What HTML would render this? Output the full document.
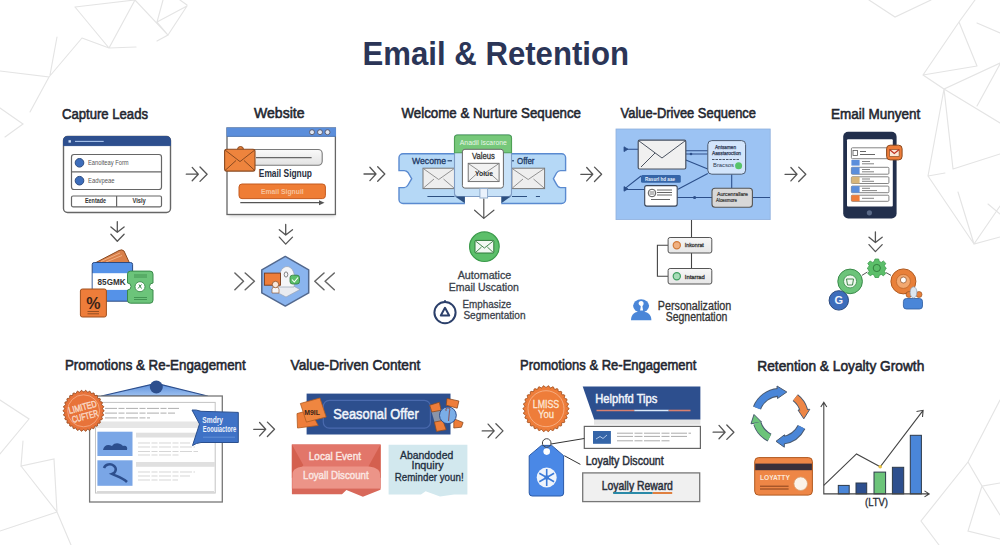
<!DOCTYPE html>
<html><head><meta charset="utf-8">
<style>
html,body{margin:0;padding:0;background:#fff;width:1000px;height:545px;overflow:hidden}
svg{display:block}
text{font-family:"Liberation Sans",sans-serif}
</style></head><body>
<svg width="1000" height="545" viewBox="0 0 1000 545">
<defs>
<g id="arr" fill="none" stroke="#555" stroke-width="1.3" stroke-linecap="round" stroke-linejoin="round"><path d="M0,0H12M5.9,-6.8L12,0L5.9,6.6M13.7,-7.2L20.8,0L13.7,7.2"/></g>
<filter id="sh" x="-20%" y="-50%" width="140%" height="200%"><feGaussianBlur stdDeviation="1.6"/></filter>
<g id="darr" fill="none" stroke="#555" stroke-width="1.3" stroke-linecap="round" stroke-linejoin="round"><path d="M0,0V10.6M-6.4,5.2L0,10.6L6.8,5.2M-6.4,12.6L0,19.6L6.8,12.6"/></g>
</defs>
<rect width="1000" height="545" fill="#fff"/>
<!-- background lines -->
<g fill="none" stroke="#e4e4e4" stroke-width="1.15" stroke-linecap="round">
<path d="M75,7L135,0M75,7L109,48L136,47M109,48L135,0L168,35L157,41M157,22L187,6M163,0L157,22L168,35M180,0L187,5M187,6L168,35M82,38L109,48M82,38L49,77M57,37L50,75M0,71L49,77L30,112M0,108L23,124L5,137"/>
<path d="M869,0L895,17L931,0M975,0L959,22L923,75M959,22L977,66M923,75L977,66M923,75L944,89L1000,63M977,23L1000,33M944,89L928,176M944,89L953,169M944,89L1000,123M977,106L1000,64M953,169L1000,154M928,176L945,173M928,176L974,244M958,192L974,244L1000,237M974,244L1000,206M988,204L1000,214"/>
<path d="M0,400L29,419L0,454M23,441L21,466L54,459L57,512M21,466L57,512L0,531M57,512L71,545"/>
<path d="M1000,400L968,462L921,521L939,545M968,462L982,486L1000,483M982,486L968,531L1000,539M982,486L1000,515"/>
</g>

<!-- title -->
<text x="362.6" y="65.3" font-size="33.5" font-weight="bold" fill="#2b3557" textLength="266.4" lengthAdjust="spacingAndGlyphs">Email &amp; Retention</text>

<!-- headings -->
<g font-size="15.5" fill="#23262f" stroke="#23262f" stroke-width="0.6">
<text x="62" y="118.5" textLength="86" lengthAdjust="spacingAndGlyphs">Capture Leads</text>
<text x="254" y="118.1" textLength="50.5" lengthAdjust="spacingAndGlyphs">Website</text>
<text x="401.5" y="118.3" textLength="179.5" lengthAdjust="spacingAndGlyphs">Welcome &amp; Nurture Sequence</text>
<text x="620.6" y="118" textLength="135.4" lengthAdjust="spacingAndGlyphs">Value-Drivee Sequence</text>
<text x="831" y="118.9" textLength="89.3" lengthAdjust="spacingAndGlyphs">Email Munyent</text>
<text x="64.9" y="370.2" textLength="180.8" lengthAdjust="spacingAndGlyphs">Promotions &amp; Re-Engagement</text>
<text x="290.6" y="369.8" textLength="129.8" lengthAdjust="spacingAndGlyphs">Value-Driven Content</text>
<text x="520" y="369.8" textLength="176.4" lengthAdjust="spacingAndGlyphs">Promotions &amp; Re-Engagement</text>
<text x="757.3" y="370.7" textLength="167" lengthAdjust="spacingAndGlyphs">Retention &amp; Loyalty Growth</text>
</g>


<!-- ===== Capture Leads window ===== -->
<g>
<rect x="63.5" y="136.5" width="107" height="76" rx="4" fill="#fff" stroke="#666" stroke-width="1.4"/>
<path d="M63.5,145.6V140.5a4,4 0 0 1 4,-4H166.5a4,4 0 0 1 4,4V145.6Z" fill="#2d4f8e" stroke="#2d4f8e" stroke-width="1"/>
<rect x="68.5" y="140.2" width="2.4" height="2.4" fill="#cfe0f7"/>
<line x1="75" y1="141.4" x2="103.7" y2="141.4" stroke="#a9c4ee" stroke-width="1.1"/>
<rect x="71.5" y="154.5" width="90" height="35" rx="2.5" fill="#fff" stroke="#666" stroke-width="1.2"/>
<line x1="71.5" y1="171.8" x2="161.5" y2="171.8" stroke="#666" stroke-width="1.2"/>
<circle cx="79.5" cy="162.8" r="4.3" fill="#3d6dbb" stroke="#2b4a7e" stroke-width="1"/>
<circle cx="79.5" cy="180.7" r="4.3" fill="#3d6dbb" stroke="#2b4a7e" stroke-width="1"/>
<text x="88" y="164.8" font-size="7" fill="#555" textLength="40.6" lengthAdjust="spacingAndGlyphs">Eanoiteay Form</text>
<text x="88" y="182.8" font-size="7" fill="#555" textLength="26.6" lengthAdjust="spacingAndGlyphs">Eadvpeae</text>
<rect x="71.5" y="196" width="90" height="10.8" rx="1.5" fill="#fff" stroke="#666" stroke-width="1.2"/>
<line x1="116.6" y1="196" x2="116.6" y2="206.8" stroke="#666" stroke-width="1.2"/>
<text x="85" y="203.4" font-size="6.5" font-weight="bold" fill="#333" textLength="21" lengthAdjust="spacingAndGlyphs">Eentade</text>
<text x="132.5" y="203.4" font-size="6.5" font-weight="bold" fill="#333" textLength="13.3" lengthAdjust="spacingAndGlyphs">Visly</text>
</g>

<!-- ===== Website window ===== -->
<g>
<rect x="229" y="212" width="106" height="5" fill="#000" opacity="0.12" filter="url(#sh)"/>
<rect x="227" y="128" width="108.4" height="86.5" fill="#fff" stroke="#666" stroke-width="1.3"/>
<rect x="227" y="128" width="108.4" height="8.1" fill="#5b8edb" stroke="#5b8edb" stroke-width="1"/>
<line x1="227" y1="136.4" x2="335.4" y2="136.4" stroke="#4a70a8" stroke-width="0.8"/>
<g fill="#dfe6f2" stroke="#556" stroke-width="0.9"><circle cx="312" cy="132.2" r="2.5"/><circle cx="320" cy="132.2" r="2.5"/><circle cx="327.5" cy="132.2" r="2.5"/></g>
<defs><linearGradient id="wg" x1="0" y1="0" x2="0" y2="1"><stop offset="0" stop-color="#fafafa"/><stop offset="1" stop-color="#e2e2e2"/></linearGradient></defs>
<rect x="250" y="149.5" width="72.2" height="15.7" rx="4" fill="url(#wg)" stroke="#7a7a7a" stroke-width="1.1"/>
<line x1="256" y1="157.6" x2="311.6" y2="157.6" stroke="#666" stroke-width="1.1"/>
<path d="M237.5,149.5a3,3 0 0 1 6,0" fill="#e8803a" stroke="#8a4a20" stroke-width="1"/>
<rect x="224.6" y="149.3" width="30.4" height="21.8" rx="2" fill="#ee843d" stroke="#8a4a20" stroke-width="1.1"/>
<path d="M225,150L240,161.6L254.8,150M225,170.5L236,160.5M254.8,170.5L244,160.5" fill="none" stroke="#8a4a20" stroke-width="1"/>
<text x="258.8" y="177.4" font-size="11" font-weight="bold" fill="#2b3040" textLength="53.2" lengthAdjust="spacingAndGlyphs">Email Signup</text>
<rect x="239" y="184" width="86.4" height="14.6" rx="3" fill="#ef7d35" stroke="#c45a1e" stroke-width="1"/>
<text x="261" y="193.6" font-size="8" font-weight="bold" fill="#f6c29c" textLength="42.7" lengthAdjust="spacingAndGlyphs">Email Signuil</text>
<line x1="240.3" y1="202.7" x2="322" y2="202.7" stroke="#555" stroke-width="1.2"/>
<path d="M319,200.2L324.5,202.7L319,205.2Z" fill="#555"/>
</g>


<!-- ===== Welcome & Nurture ===== -->
<g>
<path d="M403,153.8H561.6a4,4 0 0 1 4,4V170.6H560.5Q558,170.6 556.5,173L553.4,178.7L556.5,184.3Q558,187.6 560.5,187.6H565.6V199.5a4,4 0 0 1 -4,4H403a4,4 0 0 1 -4,-4V187.6H404.2Q406.5,187.6 408,185L411.7,178.7L408,172.5Q406.5,170.6 404.2,170.6H399V157.8a4,4 0 0 1 4,-4Z" fill="#b5d8f6" stroke="#5a8ad0" stroke-width="1.4"/>
<rect x="423" y="168.2" width="31.5" height="20.4" fill="#eeeeee" stroke="#777" stroke-width="1"/>
<path d="M423.5,168.7L438.7,179.5L454,168.7M423.5,188L434,179M454,188L443.5,179" fill="none" stroke="#888" stroke-width="0.9"/>
<rect x="511.9" y="168.2" width="32.7" height="20.4" fill="#eeeeee" stroke="#777" stroke-width="1"/>
<path d="M512.4,168.7L528.2,179.5L544.1,168.7M512.4,188L523,179M544.1,188L533.5,179" fill="none" stroke="#888" stroke-width="0.9"/>
<text x="412" y="163.6" font-size="9.5" fill="#1f3a66" stroke="#1f3a66" stroke-width="0.35" textLength="34" lengthAdjust="spacingAndGlyphs">Wecome</text>
<line x1="447.5" y1="160.8" x2="452" y2="160.8" stroke="#1f3a66" stroke-width="1.1"/>
<line x1="511" y1="160.8" x2="514" y2="160.8" stroke="#1f3a66" stroke-width="1.1"/>
<text x="517" y="163.6" font-size="9.5" fill="#1f3a66" stroke="#1f3a66" stroke-width="0.35" textLength="17.5" lengthAdjust="spacingAndGlyphs">Offer</text>
<line x1="427.4" y1="196.5" x2="454.5" y2="196.5" stroke="#2c4f80" stroke-width="1"/>
<line x1="512" y1="196.5" x2="527" y2="196.5" stroke="#2c4f80" stroke-width="1"/>
<line x1="535.9" y1="196.5" x2="540" y2="196.5" stroke="#2c4f80" stroke-width="1"/>
<!-- green box -->
<rect x="454.5" y="135" width="57" height="61.5" rx="3" fill="#c8e2f8" stroke="#7f9cc4" stroke-width="1.1"/>
<path d="M454.5,152.8V138a3,3 0 0 1 3,-3H508.5a3,3 0 0 1 3,3V152.8Z" fill="#76c87a" stroke="#4fa055" stroke-width="1.1"/>
<text x="459.8" y="144.6" font-size="7" fill="#e8f6e8" textLength="47" lengthAdjust="spacingAndGlyphs">Anadil Iscarone</text>
<rect x="462.4" y="149.3" width="41" height="38.8" rx="2.5" fill="#fff" stroke="#666" stroke-width="1"/>
<text x="472" y="159.3" font-size="9" fill="#333" stroke="#333" stroke-width="0.3" textLength="22.8" lengthAdjust="spacingAndGlyphs">Valeus</text>
<rect x="468.2" y="163.3" width="30.9" height="18.3" fill="#f2f2f2" stroke="#666" stroke-width="0.9"/>
<path d="M468.6,163.7L483.6,174L498.7,163.7M468.6,181.2L477.5,173M498.7,181.2L489.5,173" fill="none" stroke="#777" stroke-width="0.8"/>
<text x="475" y="175.6" font-size="8" font-weight="bold" fill="#333" textLength="18" lengthAdjust="spacingAndGlyphs">Yolue</text>
<rect x="464.9" y="197" width="36.4" height="8" fill="#fff"/>
<path d="M455.1,196.4H464.9V203.2Z" fill="#2c4f80"/>
<path d="M501.3,196.4H511V196.4L501.3,203.2Z" fill="#2c4f80"/>
<rect x="479.9" y="188.6" width="7.7" height="9.4" fill="#eaf2fc" stroke="#8aa6c8" stroke-width="0.9"/>
<path d="M483.8,199V218.4M474.6,210.2L483.8,218.4L493.9,210.2" fill="none" stroke="#555" stroke-width="1.2" stroke-linecap="round" stroke-linejoin="round"/>
</g>


<!-- ===== Value-Drive Sequence ===== -->
<g>
<rect x="616" y="129" width="154.2" height="90.6" fill="#9cc3f3" stroke="#8fb0dc" stroke-width="0.8"/>
<g fill="none" stroke="#2c4f8a" stroke-width="1.1">
<path d="M624.5,149.2H638.2M685.8,150.7H707.8M685.8,154H707.8M685.8,159.9L707.8,169M678,189.2L707.8,173.6M624.5,188.9L641,176M624.5,189.5H644.7M677.2,197.5H712M752.4,197.5H770M731.7,174.2V188.3"/>
</g>
<path d="M624,146.8L628,149.2L624,151.6Z M624,186.6L628,188.9L624,191.2Z" fill="#2c4f8a" stroke="#2c4f8a" stroke-width="0.8"/>
<circle cx="694.6" cy="197.5" r="1.6" fill="#2c4f8a"/>
<circle cx="691" cy="154" r="1.3" fill="#2c4f8a"/>
<rect x="638.2" y="140.2" width="47.6" height="28.8" rx="1.5" fill="#f0f0f0" stroke="#4a5260" stroke-width="1.2"/>
<path d="M638.8,140.8L662,158L685.2,140.8M641,167L655,153" fill="none" stroke="#4a5260" stroke-width="1"/>
<rect x="707.8" y="140.6" width="37.8" height="33.6" rx="4" fill="#d3e5fb" stroke="#4a5a70" stroke-width="1"/>
<text x="715" y="148.6" font-size="5.5" fill="#2a3550" stroke="#2a3550" stroke-width="0.25" textLength="21" lengthAdjust="spacingAndGlyphs">Antsamen</text>
<text x="712" y="154.6" font-size="5.5" fill="#2a3550" stroke="#2a3550" stroke-width="0.25" textLength="29" lengthAdjust="spacingAndGlyphs">Aasstaroction</text>
<line x1="712" y1="159.5" x2="740" y2="159.5" stroke="#3a4558" stroke-width="0.9" stroke-dasharray="2.5,1"/>
<text x="713" y="167.4" font-size="5" fill="#2a3550" textLength="21" lengthAdjust="spacingAndGlyphs">Bracsos</text>
<circle cx="738.6" cy="165.7" r="3.5" fill="#58c46a"/>
<rect x="641" y="175" width="39.8" height="7.8" rx="1.5" fill="#3565a8"/>
<text x="645" y="181.2" font-size="6" font-weight="bold" fill="#e8f0fb" textLength="30" lengthAdjust="spacingAndGlyphs">Rasurl hd aae</text>
<rect x="644.7" y="185.6" width="32.5" height="20.5" rx="2" fill="#fff" stroke="#3a4558" stroke-width="1.1"/>
<circle cx="652" cy="193" r="3.8" fill="#fff" stroke="#444" stroke-width="0.9"/>
<path d="M649.5,192H654.5M649.5,194H654.5" stroke="#444" stroke-width="0.7"/>
<path d="M657,190H672M657,192.5H672M657,195H672M651,199.5H670" stroke="#555" stroke-width="0.9"/>
<rect x="712" y="188.3" width="40.4" height="18.9" rx="3" fill="#d8d8d8" stroke="#555" stroke-width="1.1"/>
<text x="717" y="196.4" font-size="5.5" fill="#333" stroke="#333" stroke-width="0.2" textLength="31" lengthAdjust="spacingAndGlyphs">Aurcenrallare</text>
<text x="716" y="202.4" font-size="5.5" fill="#333" stroke="#333" stroke-width="0.2" textLength="21" lengthAdjust="spacingAndGlyphs">Aloesmore</text>
</g>


<!-- ===== Value-Drive lower ===== -->
<g>
<path d="M691.5,220V237.5M691.5,253V268.5M668,245.3H657.4V276.3H668" fill="none" stroke="#444" stroke-width="1.1"/>
<defs><linearGradient id="gb" x1="0" y1="0" x2="0" y2="1"><stop offset="0" stop-color="#f7f7f7"/><stop offset="1" stop-color="#e6e6e6"/></linearGradient></defs>
<rect x="668.1" y="237.5" width="43.7" height="15.5" rx="2" fill="url(#gb)" stroke="#555" stroke-width="1"/>
<rect x="668.1" y="268.5" width="43.7" height="15.5" rx="2" fill="url(#gb)" stroke="#555" stroke-width="1"/>
<circle cx="676.8" cy="245.2" r="3.6" fill="#f0b080" stroke="#d07a3a" stroke-width="1.2"/>
<circle cx="676.8" cy="276.3" r="3.6" fill="#a8dcb8" stroke="#3f9f60" stroke-width="1.2"/>
<text x="684.8" y="247.4" font-size="6" fill="#333" stroke="#333" stroke-width="0.3" textLength="19" lengthAdjust="spacingAndGlyphs">Inkonrat</text>
<text x="684.8" y="278.5" font-size="6" fill="#333" stroke="#333" stroke-width="0.3" textLength="20" lengthAdjust="spacingAndGlyphs">Intarrad</text>
<!-- person icon -->
<ellipse cx="641.1" cy="305.8" rx="8" ry="6.6" fill="#4a86d8"/>
<path d="M631,320.2C631,314 635,311.5 641,311.5C647,311.5 651.4,314 651.4,320.2Z" fill="#4a86d8"/>
<path d="M638.6,303.5a2.5,2.5 0 1 1 5,0c0,1.5 -1,2 -1.2,3l0.7,4h-3l0.7,-4c-0.2,-1 -2.2,-1.5 -2.2,-3Z" fill="#fff"/>
<text x="657.8" y="310.4" font-size="12.3" fill="#333" stroke="#333" stroke-width="0.3" textLength="73.5" lengthAdjust="spacingAndGlyphs">Personalization</text>
<text x="665.8" y="320.7" font-size="12.3" fill="#333" stroke="#333" stroke-width="0.3" textLength="61.5" lengthAdjust="spacingAndGlyphs">Segnentation</text>
</g>

<!-- ===== Welcome lower ===== -->
<g>
<circle cx="484.4" cy="246.7" r="14.8" fill="#5cbf6a" stroke="#3a9a4a" stroke-width="1.2"/>
<rect x="475" y="240.4" width="18.8" height="12.6" rx="1" fill="#f2f8f2" stroke="#2f7a3a" stroke-width="1"/>
<path d="M475.5,241L484.4,248L493.3,241M475.5,252.5L481.5,247M493.3,252.5L487.3,247" fill="none" stroke="#2f7a3a" stroke-width="0.9"/>
<g fill="#3a3f4a" stroke="#3a3f4a" stroke-width="0.3" font-size="11.3">
<text x="457.7" y="278.7" textLength="53.6" lengthAdjust="spacingAndGlyphs">Automatice</text>
<text x="448.8" y="290.8" textLength="70.1" lengthAdjust="spacingAndGlyphs">Email Uscation</text>
<text x="462.5" y="307.8" textLength="48.8" lengthAdjust="spacingAndGlyphs">Emphasize</text>
<text x="463.4" y="318.9" textLength="62.1" lengthAdjust="spacingAndGlyphs">Segmentation</text>
</g>
<circle cx="445" cy="312.6" r="10.6" fill="#fff" stroke="#2b3f6a" stroke-width="2"/>
<line x1="445" y1="300" x2="445" y2="302" stroke="#2b3f6a" stroke-width="1.5"/>
<path d="M445,307.8L449.2,315.5H440.8Z" fill="none" stroke="#2b3f6a" stroke-width="2" stroke-linejoin="round"/>
</g>

<!-- ===== Tablet ===== -->
<g>
<rect x="843.2" y="131.8" width="53.4" height="86.7" rx="5" fill="#222f4c"/>
<rect x="847" y="139.2" width="45.8" height="67.2" rx="1" fill="#fff"/>
<circle cx="869.4" cy="212.8" r="2.6" fill="#5a6a88"/>
<g fill="#fff" stroke="#777" stroke-width="0.9">
<rect x="851.4" y="147.8" width="36.6" height="10.9" rx="1"/>
<rect x="851.4" y="167.3" width="37.5" height="6.9" rx="1"/>
<rect x="851.4" y="176.8" width="37.5" height="6.7" rx="1"/>
<rect x="851.4" y="186.1" width="37.5" height="6.6" rx="1"/>
<rect x="851.4" y="195.2" width="37.5" height="6.1" rx="1"/>
</g>
<rect x="853" y="150.5" width="4.5" height="5" fill="#fff" stroke="#555" stroke-width="0.8"/>
<path d="M860,151.5H866M860,154.5H875" stroke="#555" stroke-width="0.9"/>
<rect x="851.4" y="159.9" width="8.2" height="5.7" fill="#5b8edb"/>
<rect x="851.4" y="167.3" width="8.2" height="6.9" fill="#5b8edb"/>
<rect x="851.4" y="176.8" width="8.2" height="6.7" fill="#d8b67a"/>
<rect x="851.4" y="186.1" width="8.2" height="6.6" fill="#5b8edb"/>
<rect x="851.4" y="195.2" width="8.2" height="6.1" fill="#ee7d3a"/>
<path d="M862,161.5H870M862,163.8H874M862,169.5H870M862,171.8H874M862,179H870M862,181.3H874M862,188.3H870M862,190.6H877M862,198.3H874" stroke="#666" stroke-width="0.8"/>
<rect x="886.6" y="145.2" width="15.5" height="14.7" rx="3.5" fill="#ee7d3a" stroke="#8a4a20" stroke-width="1"/>
<path d="M889.5,149.5H899.2V156.5H889.5Z" fill="#fbe6d6" stroke="#8a4a20" stroke-width="0.7"/>
<path d="M889.5,149.5L894.3,153.5L899.2,149.5" fill="none" stroke="#c03020" stroke-width="1.2"/>
</g>


<!-- ===== Wallet icon ===== -->
<g>
<path d="M95,263L119,250.5Q122,249 124,251L129.5,263Z" fill="#d9804a" stroke="#8a4a20" stroke-width="1" stroke-linejoin="round"/>
<path d="M101,261.5L120,253M106,262L122,255.5" stroke="#f3b488" stroke-width="0.9"/>
<rect x="92.2" y="262.5" width="40.4" height="38.7" rx="2" fill="#5592e8" stroke="#2d4a80" stroke-width="1"/>
<rect x="92.7" y="273.2" width="39.4" height="16.7" fill="#fff"/>
<text x="97.6" y="284.8" font-size="8.5" font-weight="bold" fill="#333" textLength="28" lengthAdjust="spacingAndGlyphs">85GMK</text>
<path d="M130.5,271.1H150a3,3 0 0 1 3,3V283a3,3 0 0 0 0,7V300.2a3,3 0 0 1 -3,3H130.5a3,3 0 0 1 -3,-3V290a3,3 0 0 0 0,-7V274.1a3,3 0 0 1 3,-3Z" fill="#6cc47a" stroke="#3a8a4a" stroke-width="1"/>
<path d="M134,275H147M134,277H147M134,297.5H147M134,299.5H147" stroke="#3a8a4a" stroke-width="0.8"/>
<circle cx="140" cy="286.7" r="5" fill="#fff" stroke="#3a8a4a" stroke-width="0.9"/>
<path d="M138,288.5L141.5,284.5M139,284.5L141.5,288.5" stroke="#3a8a4a" stroke-width="1"/>
<rect x="80.4" y="289" width="26" height="28" rx="2" fill="#ee7d3a" stroke="#a0501e" stroke-width="1"/>
<text x="93.4" y="308.5" font-size="16" font-weight="bold" text-anchor="middle" fill="#3a2418">%</text>
<path d="M87.5,311.5H99M87.5,313.8H99" stroke="#8a4a20" stroke-width="0.9"/>
</g>

<!-- ===== Hexagon icon ===== -->
<g>
<path d="M285.3,256.4L308.7,269.8V292.9L285.3,306.1L261.8,292.9V269.8Z" fill="#8ab4ee" stroke="#52688e" stroke-width="1.5" stroke-linejoin="round"/>
<path d="M271.5,289.5L286,282L300,289.5L286,297Z" fill="#e9ebf0" stroke="#9aa3b5" stroke-width="0.7" stroke-linejoin="round"/>
<path d="M279.5,287C277.5,274 281.5,266.5 287,266.5C292.5,266.5 296.5,274 294,287Z" fill="#f5f6f8" stroke="#9aa3b5" stroke-width="0.7"/>
<ellipse cx="286" cy="274.5" rx="1.8" ry="2.6" fill="none" stroke="#777" stroke-width="0.9"/>
<rect x="264.4" y="273.1" width="16.1" height="12.1" fill="#ee7d3a" stroke="#7a3a18" stroke-width="0.9"/>
<path d="M272,293V289.5Q272,286.5 275.5,286.5Q279,286.5 279,289.5V293Z" fill="#f5f6f8" stroke="#8a4a20" stroke-width="0.6"/>
<circle cx="275.5" cy="284.5" r="3.2" fill="#f8e8dc" stroke="#8a4a20" stroke-width="0.8"/>
<rect x="290" y="275.2" width="9.5" height="8.8" rx="2.5" fill="#5cbf6a" stroke="#2f7a3a" stroke-width="0.8"/>
<path d="M292,279.5L294.3,282L298,277.5" fill="none" stroke="#fff" stroke-width="1.1"/>
</g>

<!-- ===== Circles icon (Email Munyent lower) ===== -->
<g>
<path d="M861.9,275.4L867.4,272M886.1,272.6L891,275.4" stroke="#555" stroke-width="1"/>
<g transform="translate(876.8,268)">
<path d="M-1.8,-9H1.8L2.5,-6.5L4.5,-5.6L6.6,-7L9,-4.6L7.6,-2.5L8.4,-0.6L9.5,0V0L8.4,1.8L7.6,3.4L9,5.4L6.6,7.8L4.5,6.4L2.5,7.3L1.8,9.5H-1.8L-2.5,7.3L-4.5,6.4L-6.6,7.8L-9,5.4L-7.6,3.4L-8.4,1.8L-9.5,0L-8.4,-0.6L-7.6,-2.5L-9,-4.6L-6.6,-7L-4.5,-5.6L-2.5,-6.5Z" fill="#5cbf6a" stroke="#3a9a4a" stroke-width="0.8"/>
<circle r="3.6" fill="#5cbf6a" stroke="#2f7a3a" stroke-width="0.9"/>
</g>
<circle cx="850.1" cy="281.4" r="12.3" fill="#6cc47a" stroke="#3a8a4a" stroke-width="1"/>
<circle cx="850.1" cy="281.4" r="6.5" fill="#eef8ee" stroke="#3a8a4a" stroke-width="0.8"/>
<path d="M846.5,279H853.5L852.5,285H847.5Z" fill="none" stroke="#2f7a3a" stroke-width="0.9"/>
<circle cx="838.8" cy="300.4" r="9.7" fill="#3d6dbb" stroke="#2b4a7e" stroke-width="1"/>
<text x="838.8" y="304.3" font-size="11" font-weight="bold" text-anchor="middle" fill="#f0f4fb">G</text>
<circle cx="903.4" cy="281.4" r="12.5" fill="#e8803a" stroke="#b05a20" stroke-width="1"/>
<circle cx="903.4" cy="281.4" r="7" fill="#f2a870" stroke="#b05a20" stroke-width="0.6"/>
<circle cx="903.4" cy="280" r="3" fill="#fff" stroke="#8a4a20" stroke-width="0.7"/>
<rect x="903.4" y="298.5" width="19.1" height="10.5" rx="3" fill="#4a86d8" stroke="#2d5a9e" stroke-width="0.8"/>
<circle cx="909" cy="294.5" r="3" fill="#e8803a" stroke="#8a4a20" stroke-width="0.6"/>
<circle cx="919" cy="294.5" r="3" fill="#e8803a" stroke="#8a4a20" stroke-width="0.6"/>
<ellipse cx="913.5" cy="292.4" rx="3.4" ry="5.6" fill="#dde6f0" stroke="#8898aa" stroke-width="0.7"/>
</g>


<!-- hex side arrows -->
<path d="M234.9,273L243.5,281.3L234.9,289.7M245.2,273L254.4,281.3L245.2,289.7M324,273L314.8,281.3L324,289.7M334.3,273L325.1,281.3L334.3,289.7" fill="none" stroke="#666" stroke-width="1.5" stroke-linecap="round" stroke-linejoin="round"/>

<!-- ===== B1: Promotions doc ===== -->
<g>
<defs><linearGradient id="roof" x1="0" y1="0" x2="0" y2="1"><stop offset="0" stop-color="#5b8edb"/><stop offset="1" stop-color="#9cc0f0"/></linearGradient></defs>
<path d="M101.5,396L156.3,383.3L207.6,396Z" fill="url(#roof)" stroke="#2d4f8e" stroke-width="1.2" stroke-linejoin="round"/>
<rect x="89.6" y="396" width="132.7" height="106" fill="#fff" stroke="#777" stroke-width="1.3"/>
<rect x="95.5" y="402.4" width="119.7" height="90.6" fill="#fff" stroke="#c4c4c4" stroke-width="1"/>
<circle cx="156.3" cy="387" r="6.5" fill="#2d4f8e"/>
<path d="M105,408.4H179M105,413.1H175M105,417.9H150" stroke="#999" stroke-width="0.8" stroke-dasharray="12,1.5,6,1.5"/>
<rect x="95.5" y="421.5" width="119.7" height="6.5" fill="#e6e6e6"/>
<rect x="97.4" y="431.7" width="35.1" height="24.3" fill="#7aa6e6"/>
<path d="M103,450C104,445 108,444 112,446C115,442 120,443 123,446C126,445 128,447 127,450Z" fill="#2d4f8e"/>
<rect x="97.4" y="460.3" width="35.1" height="25.5" fill="#7aa6e6"/>
<path d="M104,468a6,5 0 1 1 8,6C116,476 122,477 127,482" fill="none" stroke="#2d4f8e" stroke-width="2.5"/>
<rect x="136" y="432.7" width="62" height="4.8" fill="#e0e0e0"/>
<rect x="136" y="462" width="79" height="4.8" fill="#e0e0e0"/>
<path d="M138,443H190M138,447H195M138,451.5H198M138,455H180M138,472H195M138,476H190M138,480H178" stroke="#c4c4c4" stroke-width="0.7" stroke-dasharray="12,1.5,6,1.5"/>
<line x1="97" y1="491.8" x2="214" y2="491.8" stroke="#bbb" stroke-width="0.8"/>
<!-- blue tag -->
<path d="M192,410Q196,409.5 201,411.3L238.3,412.4V442.5H201Q196,443 192.5,445.6L199.5,424Z" fill="#3f72c6" stroke="#2a4f8e" stroke-width="1" stroke-linejoin="round"/>
<line x1="203" y1="437.2" x2="235" y2="437.2" stroke="#6a98dc" stroke-width="0.8"/>
<text x="202.3" y="423.2" font-size="8.5" font-weight="bold" fill="#eef3fb" textLength="20.7" lengthAdjust="spacingAndGlyphs">Smdry</text>
<text x="202.8" y="431.5" font-size="8.5" font-weight="bold" fill="#eef3fb" textLength="33.4" lengthAdjust="spacingAndGlyphs">Eoouiactore</text>
<!-- badge -->
<g transform="translate(83.6,410.8)">
<path d="M20.50,0.00L20.26,0.53L19.67,1.03L19.08,1.50L18.80,1.98L18.97,2.50L19.46,3.08L19.93,3.69L20.05,4.26L19.71,4.73L19.03,5.10L18.35,5.43L17.97,5.84L18.04,6.39L18.39,7.06L18.72,7.76L18.73,8.34L18.29,8.72L17.55,8.94L16.82,9.13L16.37,9.45L16.31,10.00L16.52,10.73L16.70,11.48L16.58,12.05L16.08,12.34L15.31,12.40L14.55,12.43L14.05,12.65L13.88,13.17L13.93,13.93L13.95,14.70L13.72,15.23L13.16,15.41L12.40,15.31L11.65,15.18L11.11,15.29L10.84,15.77L10.73,16.52L10.59,17.28L10.25,17.75L9.67,17.81L8.94,17.55L8.24,17.27L7.69,17.27L7.32,17.68L7.06,18.39L6.76,19.10L6.33,19.50L5.76,19.43L5.10,19.03L4.47,18.61L3.93,18.49L3.49,18.81L3.08,19.46L2.65,20.09L2.14,20.39L1.59,20.20L1.03,19.67L0.50,19.13L0.00,18.90L-0.50,19.13L-1.03,19.67L-1.59,20.20L-2.14,20.39L-2.65,20.09L-3.08,19.46L-3.49,18.81L-3.93,18.49L-4.47,18.61L-5.10,19.03L-5.76,19.43L-6.33,19.50L-6.76,19.10L-7.06,18.39L-7.32,17.68L-7.69,17.27L-8.24,17.27L-8.94,17.55L-9.67,17.81L-10.25,17.75L-10.59,17.28L-10.73,16.52L-10.84,15.77L-11.11,15.29L-11.65,15.18L-12.40,15.31L-13.16,15.41L-13.72,15.23L-13.95,14.70L-13.93,13.93L-13.88,13.17L-14.05,12.65L-14.55,12.43L-15.31,12.40L-16.08,12.34L-16.58,12.05L-16.70,11.48L-16.52,10.73L-16.31,10.00L-16.37,9.45L-16.82,9.13L-17.55,8.94L-18.29,8.72L-18.73,8.34L-18.72,7.76L-18.39,7.06L-18.04,6.39L-17.97,5.84L-18.35,5.43L-19.03,5.10L-19.71,4.73L-20.05,4.26L-19.93,3.69L-19.46,3.08L-18.97,2.50L-18.80,1.98L-19.08,1.50L-19.67,1.03L-20.26,0.53L-20.50,0.00L-20.26,-0.53L-19.67,-1.03L-19.08,-1.50L-18.80,-1.98L-18.97,-2.50L-19.46,-3.08L-19.93,-3.69L-20.05,-4.26L-19.71,-4.73L-19.03,-5.10L-18.35,-5.43L-17.97,-5.84L-18.04,-6.39L-18.39,-7.06L-18.72,-7.76L-18.73,-8.34L-18.29,-8.72L-17.55,-8.94L-16.82,-9.13L-16.37,-9.45L-16.31,-10.00L-16.52,-10.73L-16.70,-11.48L-16.58,-12.05L-16.08,-12.34L-15.31,-12.40L-14.55,-12.43L-14.05,-12.65L-13.88,-13.17L-13.93,-13.93L-13.95,-14.70L-13.72,-15.23L-13.16,-15.41L-12.40,-15.31L-11.65,-15.18L-11.11,-15.29L-10.84,-15.77L-10.73,-16.52L-10.59,-17.28L-10.25,-17.75L-9.67,-17.81L-8.94,-17.55L-8.24,-17.27L-7.69,-17.27L-7.32,-17.68L-7.06,-18.39L-6.76,-19.10L-6.33,-19.50L-5.76,-19.43L-5.10,-19.03L-4.47,-18.61L-3.93,-18.49L-3.49,-18.81L-3.08,-19.46L-2.65,-20.09L-2.14,-20.39L-1.59,-20.20L-1.03,-19.67L-0.50,-19.13L-0.00,-18.90L0.50,-19.13L1.03,-19.67L1.59,-20.20L2.14,-20.39L2.65,-20.09L3.08,-19.46L3.49,-18.81L3.93,-18.49L4.47,-18.61L5.10,-19.03L5.76,-19.43L6.33,-19.50L6.76,-19.10L7.06,-18.39L7.32,-17.68L7.69,-17.27L8.24,-17.27L8.94,-17.55L9.67,-17.81L10.25,-17.75L10.59,-17.28L10.73,-16.52L10.84,-15.77L11.11,-15.29L11.65,-15.18L12.40,-15.31L13.16,-15.41L13.72,-15.23L13.95,-14.70L13.93,-13.93L13.88,-13.17L14.05,-12.65L14.55,-12.43L15.31,-12.40L16.08,-12.34L16.58,-12.05L16.70,-11.48L16.52,-10.73L16.31,-10.00L16.37,-9.45L16.82,-9.13L17.55,-8.94L18.29,-8.72L18.73,-8.34L18.72,-7.76L18.39,-7.06L18.04,-6.39L17.97,-5.84L18.35,-5.43L19.03,-5.10L19.71,-4.73L20.05,-4.26L19.93,-3.69L19.46,-3.08L18.97,-2.50L18.80,-1.98L19.08,-1.50L19.67,-1.03L20.26,-0.53Z" fill="#e8733a" stroke="#9a4a1e" stroke-width="1"/>
<circle r="16" fill="none" stroke="#f5b08a" stroke-width="0.8"/>
<g transform="rotate(-15)" fill="#f9d8c4" stroke="#f9d8c4" stroke-width="0.45" font-size="9.5" text-anchor="middle">
<text x="0" y="-0.5" textLength="29" lengthAdjust="spacingAndGlyphs">LIMITED</text>
<text x="0" y="9" textLength="27" lengthAdjust="spacingAndGlyphs">CUFTER</text>
</g>
</g>
</g>

<!-- ===== B2: Value-Driven Content ===== -->
<g>
<rect x="306.6" y="393.6" width="143.9" height="40.9" fill="#2d4f8e"/>
<rect x="323.3" y="400.3" width="107.1" height="27.9" rx="6" fill="none" stroke="#4a6aae" stroke-width="1.2"/>
<text x="333.2" y="419.2" font-size="15.5" fill="#f0f4fb" stroke="#f0f4fb" stroke-width="0.55" textLength="85.5" lengthAdjust="spacingAndGlyphs">Seasonal Offer</text>
<path d="M297,413.6L310,410L318.2,425.5L297.5,428Z" fill="#ee7d3a" stroke="#b05a20" stroke-width="0.8" stroke-linejoin="round"/>
<path d="M300.4,403.5L319.9,398L326.2,417L306.4,422.1Z" fill="#ef8640" stroke="#b05a20" stroke-width="0.8" stroke-linejoin="round"/>
<text x="304.2" y="414.5" font-size="8" font-weight="bold" fill="#3a2418" textLength="15.7" lengthAdjust="spacingAndGlyphs">M9IL</text>
<path d="M431,410L440,406L444,424L436,427Z" fill="#8a94a8"/>
<g fill="#ee7d3a" stroke="#8a4a20" stroke-width="0.8" stroke-linejoin="round">
<path d="M447,398.4L458.9,401L457.2,408.2L446.2,405.2Z"/>
<path d="M429.7,405.2L439.4,402.2L441.1,410.3L431.8,412Z"/>
<path d="M434.4,422.1L442.8,420.4L446.2,429.7L436.5,431.4Z"/>
<path d="M453.8,418.7L463.1,422.5L461.4,427.2L453.8,428Z"/>
</g>
<circle cx="447.9" cy="415.3" r="8.4" fill="#7aaee8" stroke="#2d4f8e" stroke-width="1"/>
<path d="M446.3,411a2,2 0 1 1 3.2,0L448.5,421" fill="none" stroke="#8a5a60" stroke-width="1.1"/>
<!-- red card -->
<path d="M291.9,444.6H380.5V489.8L362.9,496.7L346.4,490.1L342,494.2H291.9Z" fill="#d8685a"/>
<path d="M291.9,444.6H380.5V488.5H291.9Z" fill="#e2766a"/>
<path d="M291.9,444.6L303.4,465.3L291.9,478Z" fill="#d4604f"/>
<path d="M380.5,444.6L368.4,466.4L380.5,478Z" fill="#d4604f"/>
<path d="M292.5,488.5V474C292.5,469 298,466.4 306,466.4H366C374,466.4 380,469 380,474V488.5Z" fill="#ec9488"/>
<text x="308.8" y="459.9" font-size="11" fill="#fbe8e4" stroke="#fbe8e4" stroke-width="0.4" textLength="52.2" lengthAdjust="spacingAndGlyphs">Local Event</text>
<text x="303" y="478.9" font-size="11" fill="#fbe8e4" stroke="#fbe8e4" stroke-width="0.4" textLength="65.6" lengthAdjust="spacingAndGlyphs">Loyall Discount</text>
<!-- blue card -->
<path d="M388.6,444.7H467.4V494.6H454.1L440,496.5L425.6,491.2L421,494.6H388.6Z" fill="#d2e8ee"/>
<g font-size="11" fill="#1e2e3e" stroke="#1e2e3e" stroke-width="0.32">
<text x="400" y="458.5" textLength="53.2" lengthAdjust="spacingAndGlyphs">Abandoded</text>
<text x="411.4" y="469.4" textLength="32.3" lengthAdjust="spacingAndGlyphs">Inquiry</text>
<text x="394.8" y="480.8" textLength="68.8" lengthAdjust="spacingAndGlyphs">Reminder youn!</text>
</g>
</g>

<!-- ===== B3: Promotions 2 ===== -->
<g>
<g transform="translate(546,408.7)">
<path d="M23.00,0.00L22.73,0.60L22.07,1.16L21.40,1.68L21.08,2.22L21.28,2.80L21.83,3.46L22.36,4.14L22.50,4.78L22.11,5.31L21.35,5.72L20.58,6.10L20.16,6.55L20.23,7.16L20.63,7.92L21.01,8.70L21.01,9.35L20.52,9.79L19.69,10.03L18.86,10.24L18.36,10.60L18.30,11.21L18.53,12.04L18.74,12.88L18.61,13.52L18.04,13.84L17.17,13.91L16.32,13.94L15.75,14.19L15.57,14.77L15.63,15.63L15.65,16.49L15.39,17.09L14.77,17.29L13.91,17.17L13.07,17.03L12.46,17.15L12.16,17.69L12.04,18.53L11.88,19.39L11.50,19.92L10.85,19.98L10.03,19.69L9.24,19.37L8.62,19.37L8.21,19.83L7.92,20.63L7.59,21.43L7.11,21.87L6.46,21.80L5.72,21.35L5.01,20.87L4.41,20.74L3.91,21.10L3.46,21.83L2.97,22.54L2.40,22.87L1.78,22.67L1.16,22.07L0.56,21.46L0.00,21.20L-0.56,21.46L-1.16,22.07L-1.78,22.67L-2.40,22.87L-2.97,22.54L-3.46,21.83L-3.91,21.10L-4.41,20.74L-5.01,20.87L-5.72,21.35L-6.46,21.80L-7.11,21.87L-7.59,21.43L-7.92,20.63L-8.21,19.83L-8.62,19.37L-9.24,19.37L-10.03,19.69L-10.85,19.98L-11.50,19.92L-11.88,19.39L-12.04,18.53L-12.16,17.69L-12.46,17.15L-13.07,17.03L-13.91,17.17L-14.77,17.29L-15.39,17.09L-15.65,16.49L-15.63,15.63L-15.57,14.77L-15.75,14.19L-16.32,13.94L-17.17,13.91L-18.04,13.84L-18.61,13.52L-18.74,12.88L-18.53,12.04L-18.30,11.21L-18.36,10.60L-18.86,10.24L-19.69,10.03L-20.52,9.79L-21.01,9.35L-21.01,8.70L-20.63,7.92L-20.23,7.16L-20.16,6.55L-20.58,6.10L-21.35,5.72L-22.11,5.31L-22.50,4.78L-22.36,4.14L-21.83,3.46L-21.28,2.80L-21.08,2.22L-21.40,1.68L-22.07,1.16L-22.73,0.60L-23.00,0.00L-22.73,-0.60L-22.07,-1.16L-21.40,-1.68L-21.08,-2.22L-21.28,-2.80L-21.83,-3.46L-22.36,-4.14L-22.50,-4.78L-22.11,-5.31L-21.35,-5.72L-20.58,-6.10L-20.16,-6.55L-20.23,-7.16L-20.63,-7.92L-21.01,-8.70L-21.01,-9.35L-20.52,-9.79L-19.69,-10.03L-18.86,-10.24L-18.36,-10.60L-18.30,-11.21L-18.53,-12.04L-18.74,-12.88L-18.61,-13.52L-18.04,-13.84L-17.17,-13.91L-16.32,-13.94L-15.75,-14.19L-15.57,-14.77L-15.63,-15.63L-15.65,-16.49L-15.39,-17.09L-14.77,-17.29L-13.91,-17.17L-13.07,-17.03L-12.46,-17.15L-12.16,-17.69L-12.04,-18.53L-11.88,-19.39L-11.50,-19.92L-10.85,-19.98L-10.03,-19.69L-9.24,-19.37L-8.62,-19.37L-8.21,-19.83L-7.92,-20.63L-7.59,-21.43L-7.11,-21.87L-6.46,-21.80L-5.72,-21.35L-5.01,-20.87L-4.41,-20.74L-3.91,-21.10L-3.46,-21.83L-2.97,-22.54L-2.40,-22.87L-1.78,-22.67L-1.16,-22.07L-0.56,-21.46L-0.00,-21.20L0.56,-21.46L1.16,-22.07L1.78,-22.67L2.40,-22.87L2.97,-22.54L3.46,-21.83L3.91,-21.10L4.41,-20.74L5.01,-20.87L5.72,-21.35L6.46,-21.80L7.11,-21.87L7.59,-21.43L7.92,-20.63L8.21,-19.83L8.62,-19.37L9.24,-19.37L10.03,-19.69L10.85,-19.98L11.50,-19.92L11.88,-19.39L12.04,-18.53L12.16,-17.69L12.46,-17.15L13.07,-17.03L13.91,-17.17L14.77,-17.29L15.39,-17.09L15.65,-16.49L15.63,-15.63L15.57,-14.77L15.75,-14.19L16.32,-13.94L17.17,-13.91L18.04,-13.84L18.61,-13.52L18.74,-12.88L18.53,-12.04L18.30,-11.21L18.36,-10.60L18.86,-10.24L19.69,-10.03L20.52,-9.79L21.01,-9.35L21.01,-8.70L20.63,-7.92L20.23,-7.16L20.16,-6.55L20.58,-6.10L21.35,-5.72L22.11,-5.31L22.50,-4.78L22.36,-4.14L21.83,-3.46L21.28,-2.80L21.08,-2.22L21.40,-1.68L22.07,-1.16L22.73,-0.60Z" fill="#ee7d3a" stroke="#a8521e" stroke-width="1"/>
<circle r="18" fill="none" stroke="#f7b890" stroke-width="0.8"/>
<g fill="#fde8d8" stroke="#fde8d8" stroke-width="0.3" font-size="10.5" text-anchor="middle">
<text x="0" y="-0.8" textLength="26.5" lengthAdjust="spacingAndGlyphs">LMISS</text>
<text x="0" y="9.6" textLength="16" lengthAdjust="spacingAndGlyphs">You</text>
</g>
</g>
<rect x="594" y="419" width="106.4" height="5.7" fill="#e4e4e4"/>
<path d="M582.7,386.4H700.4V419.5H594.2Z" fill="#2d4f8e"/>
<text x="595.3" y="403.4" font-size="12.8" fill="#f0f4fb" stroke="#f0f4fb" stroke-width="0.5" textLength="62" lengthAdjust="spacingAndGlyphs">Helphfd Tips</text>
<path d="M596.5,410.5H634.3" stroke="#d88070" stroke-width="1.6"/>
<path d="M634.3,410.5H668.7" stroke="#dce8f8" stroke-width="1.6"/>
<path d="M668.7,410.5H690.5" stroke="#d88070" stroke-width="1.6"/>
<rect x="584.3" y="426.4" width="116.1" height="22" fill="#fff" stroke="#666" stroke-width="1.2"/>
<rect x="593" y="431" width="17.9" height="12.8" fill="#3565a8"/>
<path d="M596,439L600,436.5L603,438.5L607,435" fill="none" stroke="#cfe0f7" stroke-width="0.8"/>
<path d="M617,433.2H691M617,436.4H688M617,440.8H670" stroke="#888" stroke-width="0.7" stroke-dasharray="16,1.5,8,1.5"/>
<path d="M551,444L584.3,438.5M564.3,455.7L580.4,464.4" stroke="#333" stroke-width="1"/>
<path d="M541.4,445.4H551.7L563.6,455.7V493A3,3 0 0 1 560.6,496H532.2A3,3 0 0 1 529.2,493V455.7Z" fill="#4a88e6" stroke="#2a5aa8" stroke-width="1" stroke-linejoin="round"/>
<circle cx="546.7" cy="451.6" r="3.3" fill="#fff"/>
<circle cx="546.7" cy="443" r="4.3" fill="none" stroke="#444" stroke-width="1"/>
<circle cx="546.7" cy="477.5" r="10" fill="#eef4fc"/>
<g stroke="#3a7ad8" stroke-width="1.6"><path d="M546.7,469V486M539.3,473.3L554.1,481.7M539.3,481.7L554.1,473.3"/></g>
<circle cx="546.7" cy="477.5" r="2.2" fill="#3a7ad8"/>
<text x="585.7" y="465.4" font-size="12.8" fill="#2a2f3a" stroke="#2a2f3a" stroke-width="0.5" textLength="78" lengthAdjust="spacingAndGlyphs">Loyalty Discount</text>
<rect x="582.7" y="472.9" width="117" height="28.7" fill="#f0f0f0" stroke="#777" stroke-width="1.3"/>
<text x="601.7" y="489.7" font-size="13" fill="#2a2f3a" stroke="#2a2f3a" stroke-width="0.5" textLength="71.2" lengthAdjust="spacingAndGlyphs">Loyally Reward</text>
<path d="M613.2,493H652.7" stroke="#2a8aa8" stroke-width="2"/>
<path d="M652.7,493H672.2" stroke="#e08040" stroke-width="2"/>
</g>

<!-- ===== B4: Retention & Loyalty ===== -->
<g>
<g fill="none" stroke="#4a5a70" stroke-width="8.6">
<path d="M757,408A24.5,24.5 0 0 1 778,392.4"/>
<path d="M795.3,397.7A24.5,24.5 0 0 1 803.8,410"/>
<path d="M801.5,427A24.5,24.5 0 0 1 783,440.3"/>
<path d="M769.5,437.6A24.5,24.5 0 0 1 757.4,423.5"/>
</g>
<g stroke="#4a5a70" stroke-width="1" stroke-linejoin="round">
<path d="M777,386L786.8,392L777.5,398.5Z" fill="#4a86d8"/>
<path d="M798,410L809.8,409.3L803.8,418.8Z" fill="#ee8646"/>
<path d="M784.5,434.8L776,441.3L784.3,447.2Z" fill="#4a86d8"/>
<path d="M751,423.8L754,414.5L761.5,422Z" fill="#6cc47a"/>
</g>
<g fill="none" stroke-width="6.6">
<path d="M757,408A24.5,24.5 0 0 1 778.5,392.3" stroke="#4a86d8"/>
<path d="M795.3,397.7A24.5,24.5 0 0 1 804,410.8" stroke="#ee8646"/>
<path d="M801.5,427A24.5,24.5 0 0 1 782.5,440.4" stroke="#4a86d8"/>
<path d="M769.5,437.6A24.5,24.5 0 0 1 757,422.8" stroke="#6cc47a"/>
</g>
<rect x="754.7" y="457.6" width="57.7" height="37.5" rx="4" fill="#ee8646" stroke="#b05a20" stroke-width="1"/>
<rect x="755.2" y="463.6" width="56.7" height="6.6" fill="#3a2f3a"/>
<text x="760" y="479.9" font-size="8" font-weight="bold" fill="#fbe6d6" textLength="29.8" lengthAdjust="spacingAndGlyphs">LOYATTY</text>
<path d="M760,486.2H788.6M760,489H788.6" stroke="#7a3a1a" stroke-width="0.9"/>
<circle cx="800.7" cy="483.7" r="6.8" fill="#fbf3ea" stroke="#d9a070" stroke-width="0.8"/>
<g stroke="#2d3a4a" stroke-width="1">
<rect x="838.3" y="485.4" width="10.9" height="8.5" fill="#4a86d8"/>
<rect x="856" y="483" width="10.7" height="10.9" fill="#2d4f8e"/>
<rect x="874" y="472.1" width="11.6" height="21.8" fill="#6cc47a"/>
<rect x="892.4" y="467.3" width="11.3" height="26.6" fill="#2d4f8e"/>
<rect x="910.3" y="435.3" width="11.1" height="58.6" fill="#4a86d8"/>
</g>
<path d="M823.8,403V493.9H928.5M820.8,407L823.8,402.3L826.8,407M924.5,490.9L929.2,493.9L924.5,496.9" fill="none" stroke="#444" stroke-width="1.1"/>
<path d="M823.8,485.4L856.5,453.9L880.2,466.8L923.1,410.3M916.5,411.5L923.1,410.3L922.5,417" fill="none" stroke="#444" stroke-width="1.1"/>
<circle cx="880.2" cy="466.8" r="1.8" fill="#e8c040"/>
<text x="865" y="506" font-size="11" fill="#2a2f3a" stroke="#2a2f3a" stroke-width="0.35" textLength="23" lengthAdjust="spacingAndGlyphs">(LTV)</text>
</g>

<!-- arrows -->
<use href="#arr" x="186.3" y="174.2"/>
<use href="#arr" x="364" y="174"/>
<use href="#arr" x="580.8" y="174.3"/>
<use href="#arr" x="785" y="174.3"/>
<use href="#arr" x="253.7" y="429.3"/>
<use href="#arr" x="482.2" y="430.9"/>
<use href="#arr" x="713.1" y="432.2"/>
<use href="#darr" x="117.3" y="221.7"/>
<use href="#darr" x="285.7" y="224.5"/>
<use href="#darr" x="875.4" y="232"/>

</svg>
</body></html>
